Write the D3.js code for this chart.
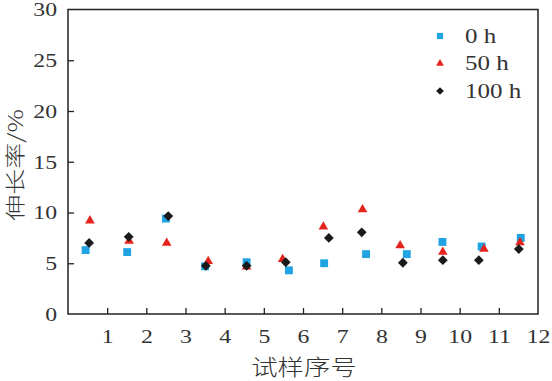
<!DOCTYPE html>
<html><head><meta charset="utf-8">
<script src="https://cdn.jsdelivr.net/npm/d3@7"></script>
<style>
body{margin:0;background:#fff;}
svg{display:block;}
</style></head>
<body>
<svg id="c" width="552" height="381"></svg>
<script>
const seriesNames = ["0 h", "50 h", "100 h"];
const xTicks = [1,2,3,4,5,6,7,8,9,10,11,12];
const yTicks = [0,5,10,15,20,25,30];
// x position of each point (sample index offset), and elongation values
const xPos0   = [0.45,1.51,2.50,3.50,4.56,5.64,6.54,7.61,8.65,9.56,10.56,11.56];
const val0    = [6.3,6.1,9.4,4.7,5.1,4.3,5.0,5.9,5.9,7.1,6.65,7.5];
const xPos50  = [0.56,1.56,2.52,3.58,4.56,5.48,6.52,7.52,8.48,9.57,10.62,11.54];
const val50   = [9.2,7.2,7.0,5.2,4.65,5.4,8.6,10.3,6.75,6.1,6.4,7.05];
const xPos100 = [0.54,1.55,2.56,3.52,4.56,5.56,6.66,7.50,8.55,9.57,10.49,11.51];
const val100  = [7.0,7.6,9.65,4.75,4.75,5.1,7.5,8.05,5.05,5.3,5.3,6.4];

const colors = ["#1fa3e2", "#e5231d", "#1a1a1a"];
const series = [
  {name: seriesNames[0], xs: xPos0, vs: val0, color: colors[0], sym: d3.symbolSquare, size: 62, legSize: 38, rot: 0},
  {name: seriesNames[1], xs: xPos50, vs: val50, color: colors[1], sym: d3.symbolTriangle, size: 40, legSize: 26, rot: 0},
  {name: seriesNames[2], xs: xPos100, vs: val100, color: colors[2], sym: d3.symbolSquare, size: 48, legSize: 30, rot: 45}
];

const svg = d3.select("#c");
const L = 68, R = 538, T = 9.5, B = 314;
const x = d3.scaleLinear().domain([0,12]).range([L,R]);
const y = d3.scaleLinear().domain([0,30]).range([B,T]);
const numFont = "'Liberation Serif','Times New Roman',serif";
const cjkFont = "'Noto Sans CJK SC','Noto Sans CJK JP',sans-serif";

// frame
svg.append("rect").attr("x",L).attr("y",T).attr("width",R-L).attr("height",B-T)
  .attr("fill","none").attr("stroke","#222").attr("stroke-width",1.5);

// x axis
const gx = svg.append("g").attr("transform",`translate(0,${B})`)
  .call(d3.axisBottom(x).tickValues(xTicks).tickSizeInner(-6).tickSizeOuter(0).tickPadding(0));
gx.select(".domain").remove();
gx.selectAll(".tick line").attr("stroke","#222").attr("stroke-width",1.3)
  .filter(d => d === 12).remove();
gx.selectAll(".tick text").attr("y",0).attr("dy",0)
  .attr("transform","translate(0,29) scale(1.25,1)")
  .attr("font-family",numFont).attr("font-size",19).attr("fill","#333");

// y axis
const gy = svg.append("g").attr("transform",`translate(${L},0)`)
  .call(d3.axisLeft(y).tickValues(yTicks).tickSizeInner(-6).tickSizeOuter(0).tickPadding(0));
gy.select(".domain").remove();
gy.selectAll(".tick line").attr("stroke","#222").attr("stroke-width",1.3)
  .filter(d => d === 0 || d === 30).remove();
gy.selectAll(".tick text").attr("x",0).attr("dy","0.34em")
  .attr("transform","translate(-11,0) scale(1.25,1)")
  .attr("font-family",numFont).attr("font-size",19).attr("fill","#333");

// axis titles
svg.append("text").attr("transform","translate(304,374.5) scale(1.2,1)")
  .attr("text-anchor","middle").attr("font-family",cjkFont).attr("font-size",22)
  .attr("font-weight",300).attr("fill","#333").text("试样序号");
svg.append("text").attr("transform","translate(23.2,165) rotate(-90) scale(1.3,1)")
  .attr("text-anchor","middle").attr("font-family",cjkFont).attr("font-size",20)
  .attr("font-weight",300).attr("fill","#333").text("伸长率/%");

// points
series.forEach(s => {
  const g = svg.append("g");
  g.selectAll("path").data(s.vs.map((v,i)=>({x:s.xs[i], v})))
    .join("path")
    .attr("d", d3.symbol(s.sym, s.size))
    .attr("transform", d => `translate(${x(d.x)},${y(d.v)}) rotate(${s.rot})`)
    .attr("fill", s.color);
});

// legend
const leg = svg.append("g");
series.forEach((s,i) => {
  const ly = 36 + i*27.5;
  leg.append("path").attr("d", d3.symbol(s.sym, s.legSize))
    .attr("transform", `translate(440,${ly}) rotate(${s.rot})`).attr("fill", s.color);
  leg.append("text").attr("transform", `translate(465,${ly}) scale(1.25,1)`)
    .attr("dy","0.34em").attr("font-family",numFont).attr("font-size",20)
    .attr("fill","#333").text(s.name);
});
</script>
</body></html>
